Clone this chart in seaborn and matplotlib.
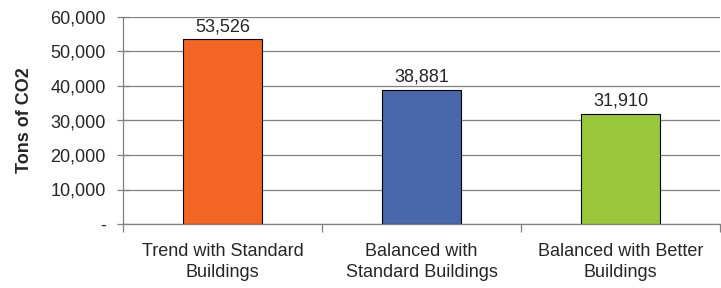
import matplotlib
matplotlib.use("Agg")
import matplotlib.pyplot as plt
import seaborn as sns
import pandas as pd
from matplotlib.ticker import FixedLocator, FuncFormatter

categories = ["Trend with Standard\nBuildings", "Balanced with\nStandard Buildings", "Balanced with Better\nBuildings"]
values = [53526, 38881, 31910]
colors = ["#F26522", "#4A66AC", "#99C83C"]
yticks = [0, 10000, 20000, 30000, 40000, 50000, 60000]

sns.set_theme(style="white")
plt.rcParams["font.family"] = ["Liberation Sans", "DejaVu Sans"]

df = pd.DataFrame({"cat": categories, "val": values})

fig = plt.figure(figsize=(7.21, 2.88), dpi=100)
ax = fig.add_axes([123/721, 1-224/288, 597/721, 207/288])
sns.barplot(data=df, x="cat", y="val", hue="cat", palette=colors, legend=False,
            width=0.4, edgecolor="black", linewidth=0.8, ax=ax, zorder=3, saturation=1)

ax.set_ylim(0, 60000)
ax.set_xlim(-0.5, 2.5)
ax.set_yticks(yticks)
ax.yaxis.set_major_formatter(FuncFormatter(lambda v, p: "-" if v == 0 else f"{int(v):,}"))
ax.grid(axis="y", color="#808080", linewidth=0.9, zorder=0)
ax.tick_params(axis="y", direction="inout", length=9, width=0.9, color="#808080", labelsize=13, pad=8, left=True)
ax.tick_params(axis="x", which="major", length=0, labelsize=13, pad=14)
for lbl in ax.get_xticklabels():
    lbl.set_linespacing(1.3)
ax.xaxis.set_minor_locator(FixedLocator([-0.5, 0.5, 1.5, 2.5]))
ax.tick_params(axis="x", which="minor", direction="out", length=6, width=0.9, color="#808080", bottom=True)
for s in ["top", "right"]:
    ax.spines[s].set_visible(False)
ax.spines["left"].set_color("#808080")
ax.spines["bottom"].set_color("#808080")
ax.spines["left"].set_linewidth(0.9)
ax.spines["bottom"].set_linewidth(0.9)

ax.set_xlabel("")
ax.set_ylabel("Tons of CO2", fontsize=13, fontweight="bold", labelpad=12)

for i, v in enumerate(values):
    ax.annotate(f"{v:,}", (i, v), xytext=(0, 3), textcoords="offset points",
                ha="center", va="bottom", fontsize=13)

fig.savefig("out.png", dpi=100)
